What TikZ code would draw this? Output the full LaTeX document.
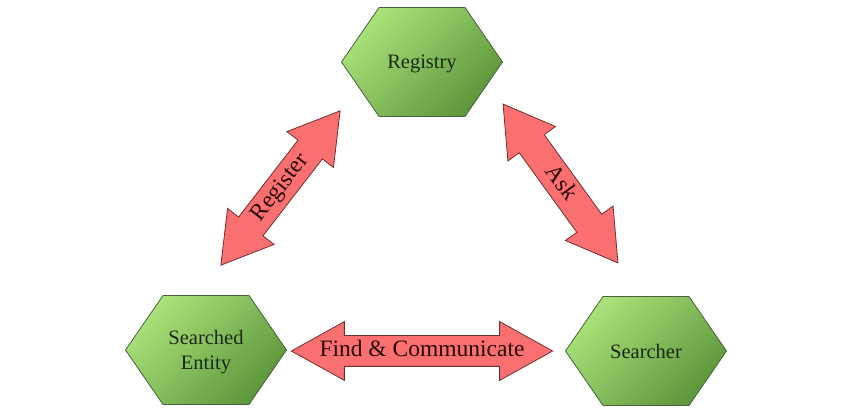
\documentclass[tikz,border=0pt]{standalone}
\usepackage{fontspec}
\setmainfont{Liberation Serif}
\usetikzlibrary{shapes.arrows}

\definecolor{hexlight}{RGB}{170,226,122}
\definecolor{hexdark}{RGB}{92,150,58}
\definecolor{hexline}{RGB}{72,98,58}
\definecolor{hextext}{RGB}{28,40,22}
\definecolor{arrowfill}{RGB}{250,112,112}
\definecolor{arrowline}{RGB}{112,48,48}
\definecolor{arrowtext}{RGB}{40,10,10}

\def\cut{38pt}

\tikzset{
  hexnode/.style={minimum width=162pt, minimum height=110pt, inner sep=0pt,
    text=hextext, align=center, text depth=0pt, font=\fontsize{20.5}{25}\selectfont,
    path picture={
      \shadedraw[draw=hexline, line width=0.8pt, top color=hexlight, bottom color=hexdark, shading angle=45]
        ([xshift=0.5pt]path picture bounding box.west)
        -- ([xshift=\cut, yshift=-0.5pt]path picture bounding box.north west)
        -- ([xshift=-\cut, yshift=-0.5pt]path picture bounding box.north east)
        -- ([xshift=-0.5pt]path picture bounding box.east)
        -- ([xshift=-\cut, yshift=0.5pt]path picture bounding box.south east)
        -- ([xshift=\cut, yshift=0.5pt]path picture bounding box.south west)
        -- cycle;
    }},
  fatarrow/.style={double arrow, draw=arrowline, fill=arrowfill, line width=0.8pt,
    double arrow head extend=14pt, double arrow tip angle=62,
    inner xsep=0pt, inner ysep=5.5pt, text height=15pt, text depth=4pt,
    text=arrowtext, font=\fontsize{23.5}{26}\selectfont}
}

\begin{document}
\begin{tikzpicture}[x=1pt,y=1pt]
    \useasboundingbox (0,0) rectangle (863,409);

    % the three parties
    \node[hexnode] (registry) at (422,347) {Registry};
    \node[hexnode] (entity) at (206,59) {Searched\\Entity};
    \node[hexnode] (searcher) at (646,58) {Searcher};

    % ends of the block arrows
    \coordinate (regA) at (221,144);
    \coordinate (regB) at (340,298);
    \coordinate (askA) at (503,305);
    \coordinate (askB) at (618,146);
    \coordinate (findA) at (296,58);
    \coordinate (findB) at (548,58);

    % the block arrows
    \path (regA) -- (regB) node[midway, sloped, fatarrow, minimum height=195pt] (register) {Register};
    \path (askA) -- (askB) node[midway, sloped, fatarrow, minimum height=196pt] (ask) {Ask};
    \path (findA) -- (findB) node[midway, sloped, fatarrow, minimum height=252pt, double arrow tip angle=58] (find) {Find \& Communicate};
\end{tikzpicture}
\end{document}
